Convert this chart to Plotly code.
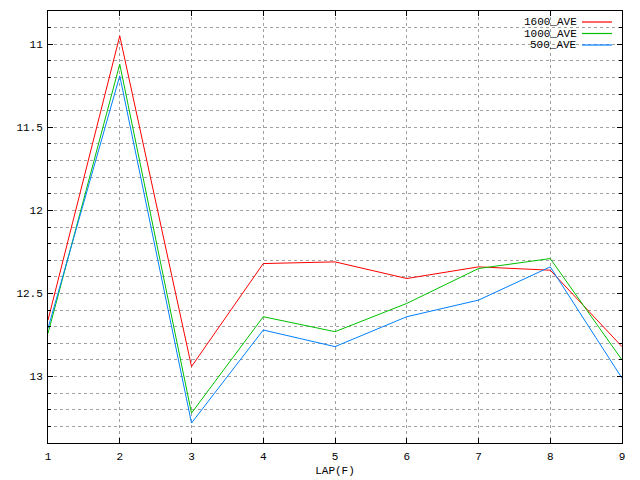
import plotly.graph_objects as go

# lap number on x, averaged lap time on y (axis is reversed)
laps = [1, 2, 3, 4, 5, 6, 7, 8, 9]
ave_1600 = [12.66, 10.95, 12.94, 12.32, 12.31, 12.41, 12.34, 12.36, 12.82]
ave_1000 = [12.74, 11.12, 13.22, 12.64, 12.73, 12.56, 12.35, 12.29, 12.90]
ave_500 = [12.71, 11.19, 13.28, 12.72, 12.82, 12.64, 12.54, 12.34, 13.01]

names = ['1600_AVE', '1000_AVE', '500_AVE']
colors = ['#ff0000', '#00c000', '#0080ff']
series = [ave_1600, ave_1000, ave_500]

font = dict(family='Liberation Mono, DejaVu Sans Mono, monospace', size=11, color='black')

fig = go.Figure()
for name, ys, c in zip(names, series, colors):
    fig.add_trace(go.Scatter(x=laps, y=ys, mode='lines', name=name,
                             line=dict(color=c, width=1), showlegend=False))

# gnuplot style key: text right aligned, sample line to its right
for i, (name, c) in enumerate(zip(names, colors)):
    ypos = 1 - (11 + 11.5 * i) / 432
    fig.add_annotation(x=(579 - 48) / 574, y=ypos, xref='paper', yref='paper',
                       text=name, showarrow=False, xanchor='right', yanchor='middle',
                       font=font)
    fig.add_shape(type='line', xref='paper', yref='paper',
                  x0=(582 - 48) / 574, x1=(612 - 48) / 574, y0=ypos, y1=ypos,
                  line=dict(color=c, width=1.2))

grid = dict(showgrid=True, gridcolor='#a0a0a0', gridwidth=1, griddash='3px,3px',
            showline=True, linecolor='black', linewidth=1, mirror='allticks',
            ticks='inside', ticklen=5, tickcolor='black', zeroline=False,
            automargin=False, tickfont=font)

# page body has an 8px margin, so the figure is a bit smaller than the window
fig.update_layout(
    width=632, height=472,
    margin=dict(l=40, r=18, t=3, b=37),
    plot_bgcolor='white', paper_bgcolor='white',
    font=font,
    xaxis=dict(range=[1, 9], dtick=1, tick0=1, ticklabelstandoff=3,
               title=dict(text='LAP(F)', standoff=4, font=font), **grid),
    yaxis=dict(range=[13.4, 10.8], dtick=0.5, tick0=11, ticklabelstandoff=2,
               minor=dict(dtick=0.1, ticks='inside', ticklen=3, tickcolor='black',
                          showgrid=True, gridcolor='#a0a0a0', griddash='3px,3px'),
               **grid),
)

fig.write_html('out.html')
